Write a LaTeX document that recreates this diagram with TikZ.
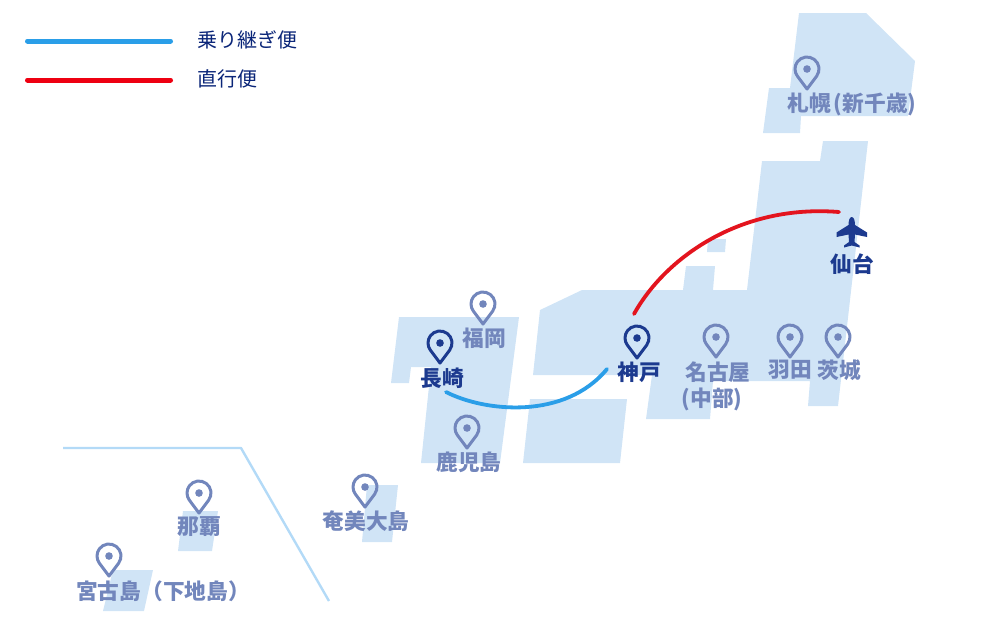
\documentclass[tikz,border=0pt]{standalone}
\usepackage{fontspec}
\setmainfont{Noto Sans CJK JP}
\definecolor{landc}{HTML}{D0E4F6}
\definecolor{borderc}{HTML}{B3DAF7}
\definecolor{darkc}{HTML}{1C3A8F}
\definecolor{fadec}{HTML}{7286BC}
\definecolor{legtxt}{HTML}{0A2578}
\definecolor{bluec}{HTML}{2A9EE8}
\definecolor{redc}{HTML}{E3141E}
\definecolor{legred}{HTML}{EE0011}
\tikzset{
  land/.style={fill=landc,draw=none},
  routeline/.style={line width=3.8pt,line cap=round},
  legline/.style={line width=5pt,line cap=round},
  legtext/.style={font=\fontsize{20}{20}\selectfont,text=legtxt,inner sep=0pt,anchor=west},
  fadelabel/.style={font=\fontsize{21.7}{22}\selectfont\bfseries,text=fadec,inner sep=0pt},
  darklabel/.style={font=\fontsize{21.7}{22}\selectfont\bfseries,text=darkc,inner sep=0pt},
  pin/.pic={
    \draw[line width=3pt,line join=round,draw=#1] (0,20) -- (9.6,7.2) arc[start angle=36.9,end angle=-216.9,radius=12] -- cycle;
    \fill[#1] (0,0) circle[radius=3.8];
  }
}
\begin{document}
\begin{tikzpicture}[x=1pt,y=-1pt]
\useasboundingbox (0,0) rectangle (1000,625);
% land
\fill[land] (799,13)--(866,13)--(915,61)--(908,116)--(801,116)--(800,133)--(763,133)--(769,88)--(790,88)--cycle;
\fill[land] (823,141)--(868,141)--(838,406)--(808,406)--(810,381)--(713,381)--(710,419)--(646,419)--(652,375)--(533,375)--(540,310)--(582,290)--(683,290)--(686,266)--(715,266)--(713,290)--(747,290)--(762,161)--(820,161)--cycle;
\fill[land] (708,239)--(726,239)--(725,252)--(707,252)--cycle;
\fill[land] (399,317)--(519,317)--(500,463)--(421,463)--(431,367)--(411,367)--(409,383)--(391,383)--cycle;
\fill[land] (530,399)--(627,399)--(620,463)--(523,463)--cycle;
\fill[land] (367,485)--(398,485)--(392,542)--(362,542)--cycle;
\fill[land] (183,511)--(218,511)--(212,551)--(178,551)--cycle;
\fill[land] (113,570)--(153,570)--(144,611)--(103,611)--cycle;
% okinawa inset border
\coordinate (borderA) at (63,448);
\coordinate (borderB) at (241,448);
\coordinate (borderC) at (329,601);
\draw[draw=borderc,line width=2.4pt,line join=round] (borderA) -- (borderB) -- (borderC);
% legend
\coordinate (legBlueA) at (27.5,41);
\coordinate (legBlueB) at (170.5,41);
\coordinate (legRedA) at (27.5,80);
\coordinate (legRedB) at (170.5,80);
\draw[legline,draw=bluec] (legBlueA) -- (legBlueB);
\draw[legline,draw=legred] (legRedA) -- (legRedB);
\node[legtext] (legTransfer) at (197,40) {乗り継ぎ便};
\node[legtext] (legDirect) at (197,79) {直行便};
% routes
\coordinate (routeKobeN) at (634,314);
\coordinate (routeSendai) at (839,212);
\coordinate (routeNagasaki) at (446,392);
\coordinate (routeKobeW) at (607,369);
\draw[routeline,draw=redc] (routeKobeN) .. controls (665,258) and (740,204) .. (routeSendai);
\draw[routeline,draw=bluec] (routeNagasaki) .. controls (485,412) and (565,420) .. (routeKobeW);
% pins
\pic at (807,69) {pin=fadec};
\pic at (483,304) {pin=fadec};
\pic at (440,343) {pin=darkc};
\pic at (637,338) {pin=darkc};
\pic at (467,428) {pin=fadec};
\pic at (716,337) {pin=fadec};
\pic at (790,337) {pin=fadec};
\pic at (838,337) {pin=fadec};
\pic at (365,487) {pin=fadec};
\pic at (199,493) {pin=fadec};
\pic at (109,556) {pin=fadec};
% plane
\fill[darkc] (851.7,217) .. controls (854,217) and (855,221) .. (855,225)
  -- (867,232.5) -- (867,237) -- (855,234.5) -- (854.5,242) -- (859.5,245.5) -- (859.5,247.5) -- (851.7,245.5)
  -- (844,247.5) -- (844,245.5) -- (849,242) -- (848.5,234.5) -- (836.5,237) -- (836.5,232.5) -- (848.5,225)
  .. controls (848.5,221) and (849.5,217) .. (851.7,217) -- cycle;
% labels
\node[fadelabel] (sapporo) at (852,104) {札幌\kern3pt(新千歳)\kern0pt};
\node[fadelabel] (fukuoka) at (484.5,338) {福岡};
\node[darklabel] (nagasaki) at (442,378) {長崎};
\node[darklabel] (kobe) at (639,372) {神戸};
\node[darklabel] (sendai) at (852,264) {仙台};
\node[fadelabel] (kagoshima) at (469,462) {鹿児島};
\node[fadelabel] (nagoya) at (718,372) {名古屋};
\node[fadelabel] (chubu) at (712,399) {(中部)};
\node[fadelabel] (haneda) at (790,370) {羽田};
\node[fadelabel] (ibaraki) at (839,370) {茨城};
\node[fadelabel] (amami) at (366,521) {奄美大島};
\node[fadelabel] (naha) at (199,527) {那覇};
\node[fadelabel] (miyako) at (163,591) {宮古島（下地島）};
\end{tikzpicture}
\end{document}
